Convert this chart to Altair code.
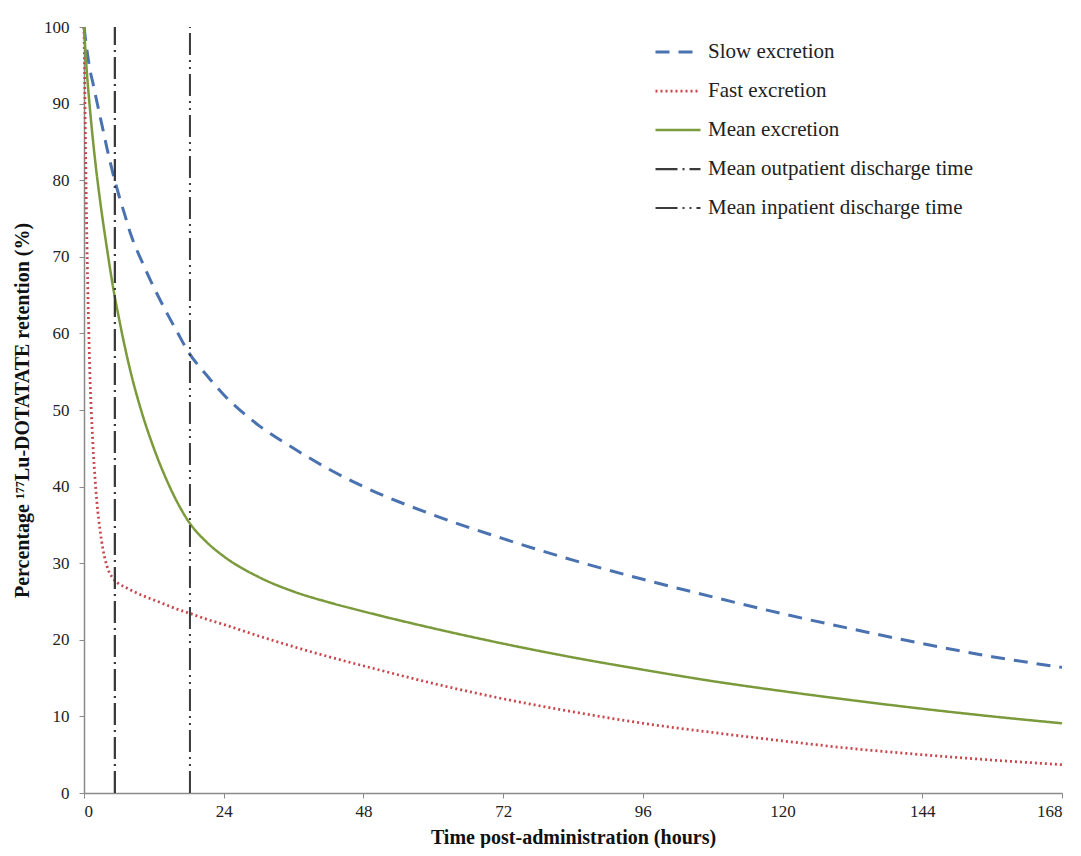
import altair as alt
import pandas as pd

# ---- data ----
t_curve = [0, 0.5, 1, 1.5, 2, 3, 4, 5, 6, 7, 8, 10, 12, 14, 16, 18, 21, 24, 30, 36, 42, 48,
           60, 72, 84, 96, 108, 120, 132, 144, 156, 168]
slow = [100, 97, 94.5, 92.8, 91, 87.5, 84, 80.8, 78, 75.5, 73, 69.3, 66, 63, 60.2, 57.5, 54.6,
        52, 48, 45, 42.3, 40, 36.3, 33.2, 30.4, 27.9, 25.6, 23.4, 21.4, 19.5, 17.8, 16.4]
fast = [100, 72, 55, 46, 40, 33, 29.5, 28, 27.3, 26.9, 26.5, 25.8, 25.2, 24.6, 24.0, 23.5, 22.7,
        22, 20.5, 19.1, 17.8, 16.6, 14.3, 12.3, 10.6, 9.1, 7.9, 6.8, 5.8, 5.0, 4.3, 3.7]
mean = [100, 94, 89.5, 85.5, 82, 76, 70.8, 66, 62, 58.3, 55, 49.5, 45, 41.2, 38, 35.4, 32.8,
        30.9, 28.2, 26.3, 24.9, 23.7, 21.5, 19.5, 17.7, 16.1, 14.6, 13.3, 12.1, 11.0, 10.0, 9.1]

outpatient_t = 5.3
inpatient_t = 18.2

series_names = ["Slow excretion", "Fast excretion", "Mean excretion",
                "Mean outpatient discharge time", "Mean inpatient discharge time"]
colors = ["#4a72b0", "#c9474c", "#7a9a3c", "#3a3a3a", "#3a3a3a"]
dashes = [[14, 9], [2, 3], [1, 0], [22, 5, 2, 5], [22, 5, 2, 5, 2, 5]]
widths = [3, 2, 3, 1.5, 1.5]

rows = []
for name, vals in zip(series_names[:3], [slow, fast, mean]):
    for i, (t, v) in enumerate(zip(t_curve, vals)):
        rows.append({"series": name, "t": t, "v": v, "o": i})
for name, tt in [(series_names[3], outpatient_t), (series_names[4], inpatient_t)]:
    rows.append({"series": name, "t": tt, "v": 0, "o": 0})
    rows.append({"series": name, "t": tt, "v": 100, "o": 1})
df = pd.DataFrame(rows)

FONT = "Liberation Serif"

legend_kw = dict(title=None, orient="none", legendX=570, legendY=13,
                 symbolType="stroke", symbolSize=2025, clipHeight=24,
                 labelFont=FONT, labelFontSize=21, labelColor="#222",
                 rowPadding=15, labelOffset=6, labelLimit=500)

chart = alt.Chart(df).mark_line(interpolate="monotone", strokeCap="butt").encode(
    x=alt.X("t:Q",
            scale=alt.Scale(domain=[0, 168], nice=False, zero=True),
            axis=alt.Axis(values=[0, 24, 48, 72, 96, 120, 144, 168],
                          title="Time post-administration (hours)",
                          titleY=50, titleBaseline="alphabetic",
                          labelPadding=5)),
    y=alt.Y("v:Q",
            scale=alt.Scale(domain=[0, 100], nice=False),
            axis=alt.Axis(values=list(range(0, 101, 10)),
                          title="Percentage \u00b9\u2077\u2077Lu-DOTATATE retention (%)",
                          titlePadding=11, labelPadding=10)),
    color=alt.Color("series:N",
                    scale=alt.Scale(domain=series_names, range=colors),
                    legend=alt.Legend(**legend_kw)),
    strokeDash=alt.StrokeDash("series:N",
                              scale=alt.Scale(domain=series_names, range=dashes),
                              legend=alt.Legend(**legend_kw)),
    strokeWidth=alt.StrokeWidth("series:N",
                                scale=alt.Scale(domain=series_names, range=widths),
                                legend=None),
    detail="series:N",
    order="o:Q",
).properties(
    width=978,
    height=766,
    autosize=alt.AutoSizeParams(type="none"),
    padding={"left": 76, "top": 19, "right": 11, "bottom": 55},
).configure_view(
    stroke=None
).configure_axis(
    grid=False,
    domainColor="#8a8a8a",
    domainWidth=1.5,
    tickColor="#8a8a8a",
    tickSize=5,
    labelFont=FONT,
    labelFontSize=17,
    labelColor="#222",
    titleFont=FONT,
    titleFontSize=20,
    titleFontWeight="bold",
    titleColor="#111",
)

chart.save("out.html", embed_options={"renderer": "svg", "actions": False})
